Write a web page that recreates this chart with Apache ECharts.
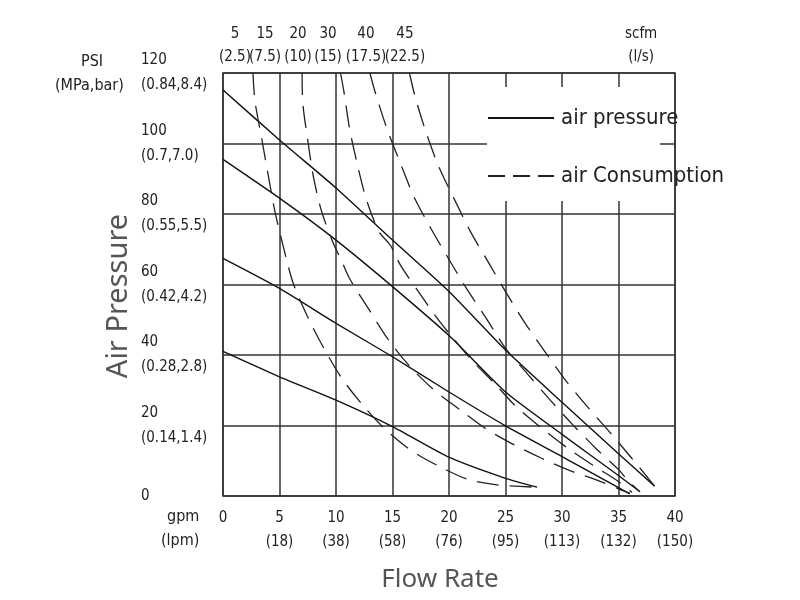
<!DOCTYPE html>
<html>
<head>
    <meta charset="utf-8">
    <script src="https://cdn.jsdelivr.net/npm/echarts@6/dist/echarts.min.js"></script>
</head>
<body style="margin:0; background:#fff">
    <div id="main" style="width: 800px; height: 600px"></div>
    <script type="text/javascript">
        // axis labels
        var psiTicks = [0, 20, 40, 60, 80, 100, 120];
        var mpaBar = ['', '(0.14,1.4)', '(0.28,2.8)', '(0.42,4.2)', '(0.55,5.5)', '(0.7,7.0)', '(0.84,8.4)'];
        var gpmTicks = [0, 5, 10, 15, 20, 25, 30, 35, 40];
        var lpm = ['', '(18)', '(38)', '(58)', '(76)', '(95)', '(113)', '(132)', '(150)'];

        // scfm labels across the top, placed at a gpm value
        var scfmAt = [1.06, 3.72, 6.64, 9.29, 12.65, 16.1, 37.0];
        var scfm = ['5', '15', '20', '30', '40', '45', 'scfm'];
        var litresPerSec = ['(2.5)', '(7.5)', '(10)', '(15)', '(17.5)', '(22.5)', '(l/s)'];

        // air pressure curves [gpm, psi]
        var pressure1 = [[0, 115.2], [5, 101], [10, 87.4], [15, 72.6], [20, 58], [25, 41.4], [30, 26.6], [35, 12], [38.2, 2.8]];
        var pressure2 = [[0, 95.5], [5, 84.5], [10, 72.6], [15, 59.4], [20, 45.5], [25, 29.5], [30, 17.5], [35, 5.8], [36.9, 1.2]];
        var pressure3 = [[0, 67.4], [5, 58.9], [10, 49], [15, 39.5], [20, 29.5], [25, 19.9], [30, 11.2], [35, 2.4], [36, 0.6]];
        var pressure4 = [[0, 41], [5, 33.8], [10, 27.2], [15, 19.7], [20, 11], [25, 5], [27.8, 2.5]];

        // air consumption curves [gpm, psi]
        var consumption1 = [[2.65, 120], [2.83, 112], [3.42, 101.5], [4, 91], [4.6, 80.7], [5.34, 70.7], [6.22, 60.3], [7.55, 50.4],
            [9, 41.5], [10.6, 33], [12.5, 25.3], [14.5, 18.5], [16.8, 12.6], [19.2, 8.3], [21.7, 4.7], [24.4, 3.1], [27.8, 2.5]];
        var consumption2 = [[7, 120], [7.05, 112], [7.5, 101], [8, 90.6], [8.73, 80.7], [9.76, 71.7], [10.4, 67.4], [11.2, 61.7],
            [12.9, 53], [14.6, 44.5], [16.5, 36.9], [18.6, 30.3], [21, 24.4], [23.2, 19.2], [25.6, 14.8], [28.2, 10.7],
            [30.7, 7.2], [33.1, 4.5], [35.1, 1.9], [36, 0.8]];
        var consumption3 = [[10.4, 120], [10.7, 114.7], [11.2, 104.3], [11.9, 93.9], [12.7, 84], [13.8, 75], [14.8, 71.2], [15.7, 65.5],
            [17.4, 57.5], [19.2, 49.4], [22, 38.6], [23.9, 32.4], [25.9, 25.5], [28.1, 19.5], [30.4, 13.8], [32.7, 8.8],
            [35, 4.1], [36.2, 1]];
        var consumption4 = [[13, 120], [13.5, 114.2], [14.5, 104.3], [15.7, 94.4], [16.9, 84.9], [18.4, 75.9], [20, 67.1],
            [21.6, 58.6], [23.3, 50.4], [25, 41.9], [26.9, 34.8], [28.9, 27.4], [30.9, 20.4], [33, 13.5], [35.1, 7.2],
            [35.8, 4.5], [36.9, 1.2]];
        var consumption5 = [[16.5, 120], [17, 113.3], [18, 102.9], [19.1, 93.4], [20.5, 84], [21.9, 75], [23.5, 66.2], [25, 58],
            [26.7, 49.2], [28.5, 40.9], [30.2, 33.3], [32.2, 25.5], [34.2, 18.2], [36.1, 11], [36.8, 8.3], [38.2, 2.8]];

        var pressureCurves = [pressure1, pressure2, pressure3, pressure4];
        var consumptionCurves = [consumption1, consumption2, consumption3, consumption4, consumption5];

        var cad = "'Liberation Sans Narrow', 'DejaVu Sans Condensed', 'Liberation Sans', sans-serif";

        // the scfm labels sit close together, so they are split over two
        // hidden top axes (every other label) to stop them hiding each other
        function topAxis(parity) {
            var vals = scfmAt.filter(function (v, k) { return k % 2 === parity; });
            return {
                type: 'value',
                position: 'top',
                min: 0, max: 40,
                axisLine: { show: false },
                axisTick: { show: false },
                splitLine: { show: false },
                axisLabel: {
                    customValues: vals,
                    margin: 4,
                    fontFamily: cad, fontSize: 15, color: '#222', lineHeight: 23,
                    formatter: function (v) {
                        for (var k = 0; k < scfmAt.length; k++) {
                            if (Math.abs(scfmAt[k] - v) < 1e-6) return scfm[k] + '\n' + litresPerSec[k];
                        }
                        return '';
                    }
                }
            };
        }

        window.onload = function () {
            var myChart = echarts.init(document.getElementById('main'));
            var serie = [];
            for (var i = 0; i < pressureCurves.length; i++) {
                serie.push({
                    name: 'air pressure',
                    type: 'line',
                    data: pressureCurves[i],
                    symbol: 'none',
                    smooth: 0.2,
                    silent: true,
                    itemStyle: { color: '#111' },
                    lineStyle: { color: '#111', width: 1.4, type: 'solid' },
                    z: 5
                });
            }
            for (var j = 0; j < consumptionCurves.length; j++) {
                serie.push({
                    name: 'air Consumption',
                    type: 'line',
                    data: consumptionCurves[j],
                    symbol: 'none',
                    smooth: 0.3,
                    silent: true,
                    itemStyle: { color: '#222' },
                    lineStyle: { color: '#222', width: 1.3, type: [22, 11] },
                    z: 5
                });
            }

            option = {
                animation: false,
                backgroundColor: '#fff',
                grid: {
                    left: 223, right: 125, top: 73, bottom: 104,
                    show: true, borderColor: '#333', borderWidth: 1.5
                },
                legend: {
                    orient: 'vertical',
                    left: 487, top: 106,
                    padding: 0,
                    itemGap: 34,
                    itemWidth: 66, itemHeight: 14,
                    itemStyle: { opacity: 0 },
                    textStyle: { fontFamily: cad, fontSize: 22, color: '#222', padding: [0, 0, 0, 2], lineHeight: 24 },
                    data: [
                        { name: 'air pressure' },
                        { name: 'air Consumption', lineStyle: { type: [17, 8] } }
                    ],
                    z: 10
                },
                graphic: [
                    { type: 'rect', left: 487, top: 87, shape: { width: 173, height: 114 }, style: { fill: '#fff' }, z: 2 },
                    { type: 'text', left: 81, top: 54, style: { text: 'PSI', font: '16px ' + cad, fill: '#222' } },
                    { type: 'text', left: 55, top: 78, style: { text: '(MPa,bar)', font: '16px ' + cad, fill: '#222' } },
                    { type: 'text', left: 167, top: 509, style: { text: 'gpm', font: '16px ' + cad, fill: '#222' } },
                    { type: 'text', left: 161, top: 533, style: { text: '(lpm)', font: '16px ' + cad, fill: '#222' } },
                    {
                        type: 'text', x: 119, y: 296, rotation: Math.PI / 2,
                        style: { text: 'Air Pressure', font: '29px Noto Sans', fill: '#555', align: 'center', verticalAlign: 'middle' }
                    },
                    {
                        type: 'text', x: 440, y: 580,
                        style: { text: 'Flow Rate', font: '26px Noto Sans', fill: '#555', align: 'center', verticalAlign: 'middle' }
                    }
                ],
                xAxis: [{
                    type: 'value',
                    min: 0, max: 40, interval: 5,
                    axisLine: { show: false },
                    axisTick: { show: false },
                    splitLine: { show: true, lineStyle: { color: '#333', width: 1.5 } },
                    axisLabel: {
                        margin: 10,
                        fontFamily: cad, fontSize: 15, color: '#222', lineHeight: 24,
                        formatter: function (v) {
                            var k = gpmTicks.indexOf(v);
                            return lpm[k] ? v + '\n' + lpm[k] : '' + v;
                        }
                    }
                }, topAxis(0), topAxis(1)],
                yAxis: {
                    type: 'value',
                    min: 0, max: 120, interval: 20,
                    axisLine: { show: false },
                    axisTick: { show: false },
                    splitLine: { show: true, lineStyle: { color: '#333', width: 1.5 } },
                    axisLabel: {
                        margin: 82,
                        align: 'left',
                        padding: [6, 0, 0, 0],
                        fontFamily: cad, fontSize: 15, color: '#222', lineHeight: 25,
                        formatter: function (v) {
                            var k = psiTicks.indexOf(v);
                            return mpaBar[k] ? v + '\n' + mpaBar[k] : '' + v;
                        }
                    }
                },
                series: serie
            };
            myChart.setOption(option);
        }
    </script>
</body>
</html>
